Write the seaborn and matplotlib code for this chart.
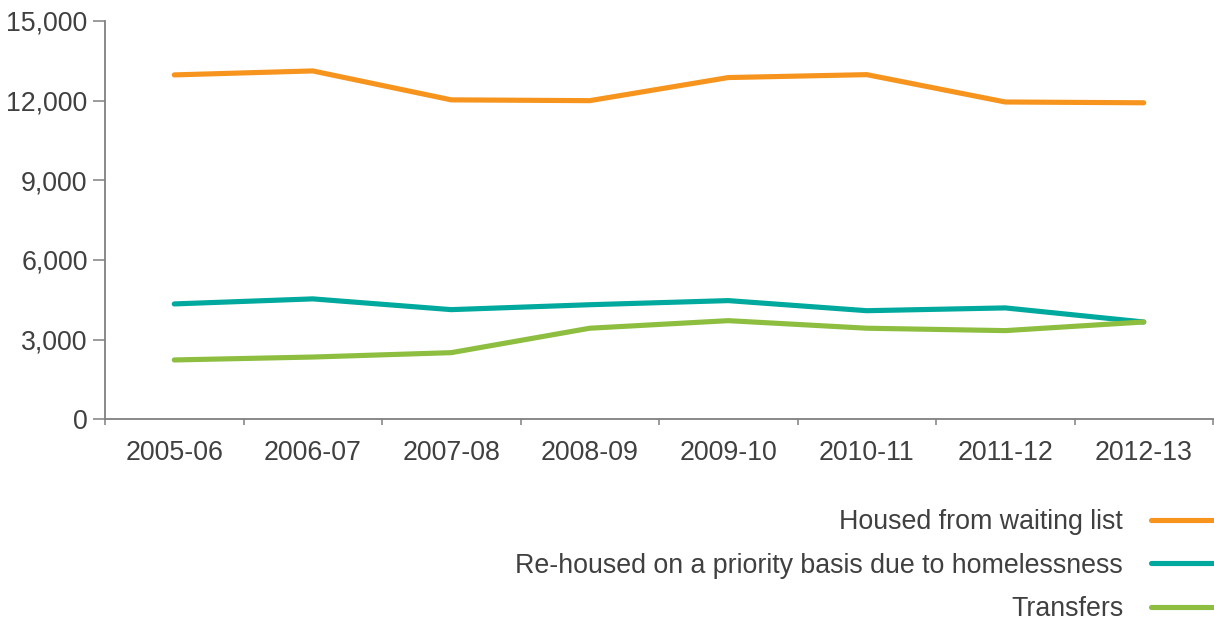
import matplotlib
matplotlib.use("Agg")
import matplotlib.pyplot as plt
from matplotlib.lines import Line2D
from matplotlib.ticker import FuncFormatter
import pandas as pd
import seaborn as sns

years = ["2005-06", "2006-07", "2007-08", "2008-09",
         "2009-10", "2010-11", "2011-12", "2012-13"]
waiting_list = [12970, 13120, 12030, 12000, 12870, 12980, 11950, 11920]
homelessness = [4345, 4535, 4130, 4315, 4470, 4090, 4195, 3665]
transfers = [2235, 2345, 2510, 3430, 3715, 3430, 3340, 3665]

series_names = ["Housed from waiting list",
                "Re-housed on a priority basis due to homelessness",
                "Transfers"]
colors = ["#F7941D", "#00A99D", "#8DBE3F"]

df = pd.DataFrame({
    "year": years * 3,
    "value": waiting_list + homelessness + transfers,
    "series": [series_names[0]] * 8 + [series_names[1]] * 8 + [series_names[2]] * 8,
})

sns.set_style("white")
plt.rcParams["font.family"] = ["Liberation Sans", "DejaVu Sans"]
text_color = "#404040"
axis_color = "#808080"
fs = 19.3

fig = plt.figure(figsize=(12.14, 6.24), dpi=100)
ax = fig.add_axes([105 / 1214, 1 - 419.3 / 624, 1108 / 1214, 398.3 / 624])

sns.lineplot(data=df, x="year", y="value", hue="series",
             palette=dict(zip(series_names, colors)), linewidth=3.7,
             sort=False, legend=False, ax=ax,
             solid_capstyle="round", solid_joinstyle="miter")

ax.set_xlim(-0.5, 7.5)
ax.set_ylim(0, 15000)
ax.set_yticks([0, 3000, 6000, 9000, 12000, 15000])
ax.yaxis.set_major_formatter(FuncFormatter(lambda v, p: f"{int(v):,}"))
ax.set_xticks(range(len(years)))
ax.set_xticklabels(years)
ax.set_xticks([i - 0.5 for i in range(len(years) + 1)], minor=True)
ax.set_xlabel("")
ax.set_ylabel("")

for side in ["top", "right"]:
    ax.spines[side].set_visible(False)
for side in ["left", "bottom"]:
    ax.spines[side].set_color(axis_color)
    ax.spines[side].set_linewidth(1.3)

ax.tick_params(axis="y", which="major", left=True, length=8.5, width=1.1,
               color=axis_color, labelsize=fs, labelcolor=text_color, pad=4)
ax.tick_params(axis="x", which="major", bottom=False, length=0,
               labelsize=fs, labelcolor=text_color, pad=15)
ax.tick_params(axis="x", which="minor", bottom=True, length=4.5, width=1.1,
               color=axis_color)

handles = [Line2D([0], [0], color=c, linewidth=3.7, solid_capstyle="round")
           for c in colors]
fig.legend(handles, series_names, loc="upper right",
           bbox_to_anchor=(1213 / 1214, 1 - 509 / 624),
           frameon=False, markerfirst=False, fontsize=fs,
           labelcolor=text_color, handlelength=2.3, handletextpad=1.05,
           labelspacing=0.66, borderpad=0, borderaxespad=0)

fig.savefig("out.png", dpi=100, facecolor="white")
